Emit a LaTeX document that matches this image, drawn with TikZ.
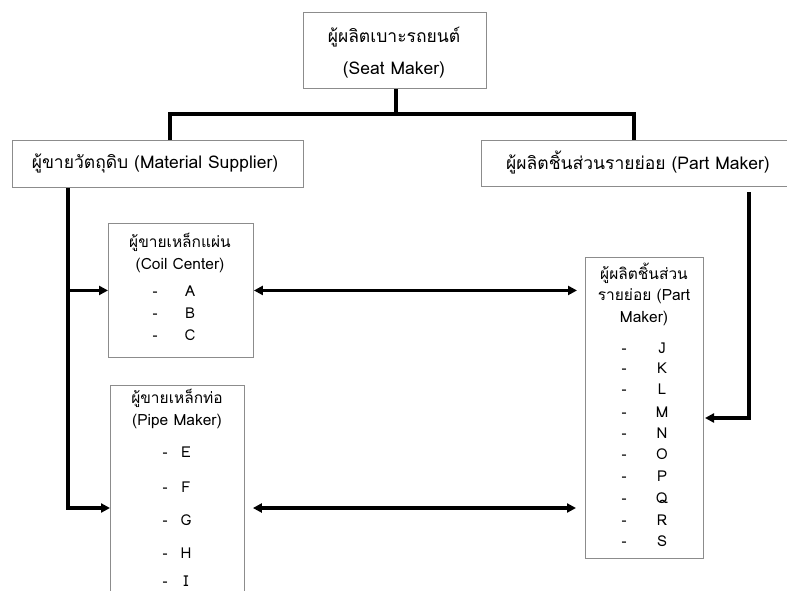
\documentclass[tikz,border=0pt]{standalone}
\usepackage{fontspec}
\setmainfont[Script=Thai]{Loma}
\usetikzlibrary{arrows.meta}
\begin{document}
\begin{tikzpicture}[x=1pt,y=-1pt,
  box/.style={draw=black!45, line width=0.9pt, inner sep=0pt, anchor=north west},
  conn/.style={line width=3.2pt},
  arr/.style={conn,-{Triangle[length=9pt,width=9pt]}},
  darr/.style={conn,{Triangle[length=9pt,width=9pt]}-{Triangle[length=9pt,width=9pt]}},
  big/.style={font=\fontsize{17.5}{32}\selectfont, align=center, inner sep=0pt},
  small/.style={font=\fontsize{15.5}{21.5}\selectfont, align=center, inner sep=0pt},
  item/.style={font=\fontsize{15}{16}\selectfont, inner sep=0pt, text height=10pt, text depth=0pt},
]
\useasboundingbox (0,0) rectangle (787,590);
\clip (0,0) rectangle (787,590);

% boxes
\node[box, minimum width=183pt, minimum height=76pt] (seat) at (303,12) {};
\node[box, minimum width=291pt, minimum height=47pt] (matl) at (12,140) {};
\node[box, minimum width=320pt, minimum height=46pt] (part) at (481,140) {};
\node[box, minimum width=145pt, minimum height=134pt] (coil) at (108,223) {};
\node[box, minimum width=134pt, minimum height=220pt] (pipe) at (110,385) {};
\node[box, minimum width=118pt, minimum height=301pt] (parts) at (585,257) {};

% texts of the main boxes
\node[big] (seattxt) at (394,53) {ผู้ผลิตเบาะรถยนต์\\(Seat Maker)};
\node[big] (matltxt) at (155,163) {ผู้ขายวัตถุดิบ (Material Supplier)};
\node[big] (parttxt) at (638,163) {ผู้ผลิตชิ้นส่วนรายย่อย (Part Maker)};

% list headers
\node[small] (coilhd) at (180,253) {ผู้ขายเหล็กแผ่น\\(Coil Center)};
\node[small] (pipehd) at (177,409) {ผู้ขายเหล็กท่อ\\(Pipe Maker)};
\node[small] (partshd) at (644,294) {ผู้ผลิตชิ้นส่วน\\รายย่อย (Part\\Maker)};

% list items
\foreach \l/\y [count=\i] in {A/291,B/313,C/335}{
  \node[item] (cd\i) at (155,\y) {-};
  \node[item] (cl\i) at (190,\y) {\l};
}
\foreach \l/\y [count=\i] in {E/452,F/487,G/520,H/553,I/581}{
  \node[item] (pd\i) at (165,\y) {-};
  \node[item] (pl\i) at (186,\y) {\l};
}
\foreach \l/\y [count=\i] in {J/348,K/368,L/389,M/412,N/433,O/454,P/476,Q/498,R/520,S/541}{
  \node[item] (qd\i) at (624,\y) {-};
  \node[item] (ql\i) at (662,\y) {\l};
}

% connectors
\coordinate (jl) at (170,114);
\coordinate (jr) at (634,114);
\coordinate (lv) at (68,0);
\coordinate (pa) at (110,508);
\coordinate (ptop) at (749,192);
\coordinate (mpt) at (703,418);

\draw[conn] (seat.south -| 396,0) -- (jl -| 396,0);
\draw[conn] (matl.north -| jl) -- (jl) -- (jr) -- (part.north -| jr);
\draw[arr] (matl.south -| lv) |- (pa);
\draw[arr] (coil.west -| lv) -- (coil.west);
\draw[darr, shorten >=8pt] (coil.east) -- (coil.east -| parts.west);
\draw[darr, shorten <=8pt, shorten >=9pt] (pipe.east |- pa) -- (parts.west |- pa);
\draw[arr, shorten >=2pt] (ptop) |- (mpt);
\end{tikzpicture}
\end{document}
